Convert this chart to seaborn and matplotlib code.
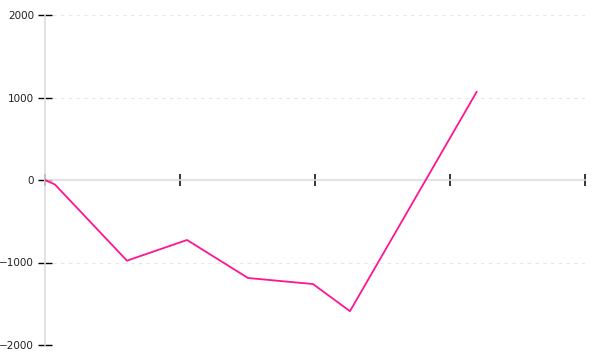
import matplotlib
matplotlib.use("Agg")
import matplotlib.pyplot as plt
import seaborn as sns
import pandas as pd

x_vals = [0.0, 0.074, 0.607, 1.052, 1.504, 1.985, 2.259, 3.198]
y_vals = [0, -55, -978, -727, -1188, -1261, -1590, 1070]
y_ticks = [-2000, -1000, 0, 1000, 2000]
x_ticks = [0, 1, 2, 3, 4]

sns.set_theme(style="white")
plt.rcParams['font.family'] = ['DejaVu Sans']

df = pd.DataFrame({"x": x_vals, "y": y_vals})

fig = plt.figure(figsize=(6, 3.6), dpi=100)
ax = fig.add_axes([45/600, 15/360, 540/600, 330/360])

sns.lineplot(data=df, x="x", y="y", ax=ax, color="#ff1493", linewidth=1.3,
             estimator=None, sort=False, zorder=5)

ax.set_xlim(0, 4)
ax.set_ylim(-2000, 2000)
ax.set_xticks(x_ticks)
ax.set_xticklabels([])
ax.set_yticks(y_ticks)
ax.set_yticklabels(["\u22122000", "\u22121000", "0", "1000", "2000"])
ax.set_xlabel("")
ax.set_ylabel("")

for v in [-2000, -1000, 1000, 2000]:
    ax.axhline(v, color="#e6e6e6", linestyle=(0, (3, 4)), linewidth=0.8, zorder=0)

for s in ["top", "right"]:
    ax.spines[s].set_visible(False)
ax.spines["bottom"].set_position(("data", 0))
ax.spines["bottom"].set_color("#dddddd")
ax.spines["bottom"].set_linewidth(1.2)
ax.spines["left"].set_color("#dddddd")
ax.spines["left"].set_linewidth(1.2)
ax.spines["bottom"].set_zorder(1)
ax.spines["left"].set_zorder(1)

ax.tick_params(axis="x", direction="inout", length=9, width=1.1, color="black", bottom=True)
ax.tick_params(axis="y", direction="inout", length=10, width=1.0, color="black", left=True,
               labelsize=7.5, pad=3, labelcolor="#222222")

fig.savefig("out.png", dpi=100)
